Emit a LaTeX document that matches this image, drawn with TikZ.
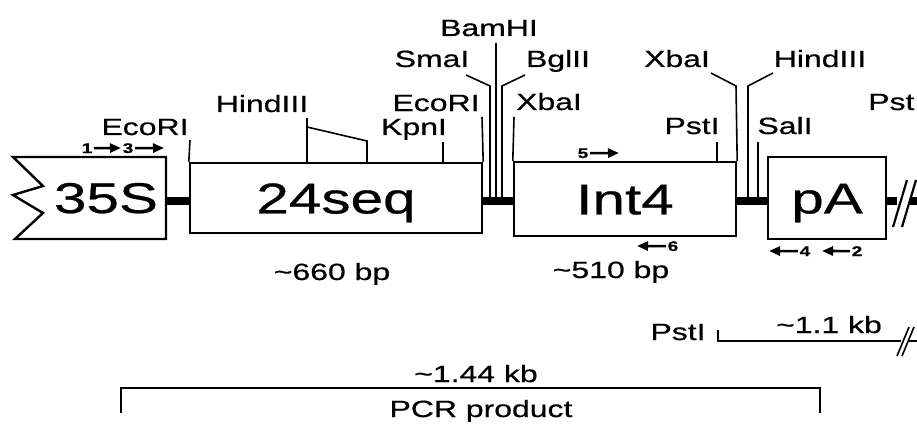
\documentclass[tikz,border=0pt]{standalone}
\usepackage{fontspec}
\setmainfont{Liberation Sans}[FakeStretch=1.36, FakeBold=0.6]
\usetikzlibrary{arrows.meta, positioning, calc}
\tikzset{
    % Boxes of the construct
    part box/.style={
        rectangle,
        draw=black,
        fill=white,
        line width=2.4pt,
        inner sep=0pt,
        text height=30.8pt,
        text depth=0pt,
        font=\fontsize{43}{43}\selectfont
    },
    part line/.style={
        draw=black,
        fill=white,
        line width=2.4pt,
        line join=miter
    },
    site label/.style={
        anchor=base,
        inner sep=0pt,
        font=\fontsize{23.5}{23.5}\selectfont
    },
    size label/.style={
        anchor=base,
        inner sep=0pt,
        font=\fontsize{23.5}{23.5}\selectfont
    },
    primer num/.style={
        anchor=base,
        inner sep=0pt,
        font=\fontsize{14}{14}\selectfont\bfseries
    },
    primer arrow/.style={
        -{Triangle[length=11pt,width=9pt]},
        line width=2.6pt,
        shorten <=1.5pt
    },
    site line/.style={
        line width=1.6pt,
        black
    },
    backbone/.style={
        line width=8pt,
        black
    },
    bracket/.style={
        line width=1.6pt,
        black
    },
    break mark/.style={
        line width=2.2pt,
        black
    }
}

\begin{document}
\begin{tikzpicture}[x=1pt, y=-1pt]
    \useasboundingbox (0,0) rectangle (917,425);

    % Backbone
    \coordinate (bbstart) at (166,201);
    \coordinate (bbbreak) at (897,201);
    \coordinate (bbresume) at (910,201);
    \coordinate (bbend) at (917,201);
    \draw[backbone] (bbstart) -- (bbbreak);
    \draw[backbone] (bbresume) -- (bbend);
    \draw[break mark] (893,227) -- (907,180);
    \draw[break mark] (902,227) -- (916,180);

    % 35S promoter
    \draw[part line] (166,157) -- (13,157) -- (43,186) -- (13,195) -- (43,213) -- (15,239) -- (166,239) -- cycle;
    \node[anchor=base, inner sep=0pt, font=\fontsize{43}{43}\selectfont] (prom) at (106,213) {35S};

    % 24seq, Int4 and pA
    \node[part box, minimum width=292pt, minimum height=70pt] (seq) at (336,198) {24seq};
    \node[part box, minimum width=222pt, minimum height=74pt] (int) at (625,199) {Int4};
    \node[part box, minimum width=118pt, minimum height=82pt] (pa) at (827,198) {pA};

    % Restriction sites
    \node[site label] (ecoA) at (145,135) {EcoRI};
    \node[site label] (hindA) at (262,112) {HindIII};
    \node[site label] (kpn) at (414,135) {KpnI};
    \node[site label] (ecoB) at (436,111) {EcoRI};
    \node[site label] (sma) at (432,67) {SmaI};
    \node[site label] (bam) at (489,36) {BamHI};
    \node[site label] (bgl) at (558,67) {BglII};
    \node[site label] (xbaA) at (549,110) {XbaI};
    \node[site label] (pstA) at (692,134) {PstI};
    \node[site label] (xbaB) at (677,67) {XbaI};
    \node[site label] (hindB) at (820,67) {HindIII};
    \node[site label] (sal) at (785,134) {SalI};
    \node[site label, anchor=base west] (pstB) at (868,110) {Pst};

    \coordinate (ecoAtop) at (190,140);
    \coordinate (hindAtop) at (307,118);
    \coordinate (hindAknee) at (307,127);
    \coordinate (hindAcut) at (367,141);
    \coordinate (kpntop) at (443,142);
    \coordinate (ecoBtop) at (482,117);
    \coordinate (smafoot) at (490,201);
    \coordinate (smaknee) at (490,86);
    \coordinate (smaend) at (466,75);
    \coordinate (bamfoot) at (496,201);
    \coordinate (bamtop) at (496,43);
    \coordinate (bglfoot) at (502,201);
    \coordinate (bglknee) at (502,86);
    \coordinate (bglend) at (525,75);
    \coordinate (xbaAtop) at (514,117);
    \coordinate (pstAtop) at (717,142);
    \coordinate (xbaBknee) at (736,86);
    \coordinate (xbaBend) at (711,73);
    \coordinate (hindBfoot) at (748,201);
    \coordinate (hindBknee) at (748,86);
    \coordinate (hindBend) at (773,73);
    \coordinate (salfoot) at (758,201);
    \coordinate (saltop) at (758,142);

    \draw[site line] (seq.north west) -- (ecoAtop);
    \draw[site line] (hindAtop) -- (hindAtop |- seq.north);
    \draw[site line] (hindAknee) -- (hindAcut) -- (hindAcut |- seq.north);
    \draw[site line] (kpntop) -- (kpntop |- seq.north);
    \draw[site line] (seq.north east) -- (ecoBtop);
    \draw[site line] (smafoot) -- (smaknee) -- (smaend);
    \draw[site line] (bamfoot) -- (bamtop);
    \draw[site line] (bglfoot) -- (bglknee) -- (bglend);
    \draw[site line] (int.north west) -- (xbaAtop);
    \draw[site line] (pstAtop) -- (pstAtop |- int.north);
    \draw[site line] (int.north east) -- (xbaBknee) -- (xbaBend);
    \draw[site line] (hindBfoot) -- (hindBknee) -- (hindBend);
    \draw[site line] (salfoot) -- (saltop);

    % Primers
    \node[primer num] (pr1) at (87,153) {1};
    \node[primer num] (pr3) at (128,153) {3};
    \node[primer num] (pr5) at (583,158) {5};
    \node[primer num] (pr6) at (673,251) {6};
    \node[primer num] (pr4) at (805,256) {4};
    \node[primer num] (pr2) at (857,256) {2};
    \coordinate (pr1tip) at (121,148);
    \coordinate (pr3tip) at (164,148);
    \coordinate (pr5tip) at (619,153);
    \coordinate (pr6tip) at (637,246);
    \coordinate (pr4tip) at (769,251);
    \coordinate (pr2tip) at (822,251);
    \draw[primer arrow] (pr1) -- (pr1tip);
    \draw[primer arrow] (pr3) -- (pr3tip);
    \draw[primer arrow] (pr5) -- (pr5tip);
    \draw[primer arrow] (pr6) -- (pr6tip);
    \draw[primer arrow] (pr4) -- (pr4tip);
    \draw[primer arrow] (pr2) -- (pr2tip);

    % Sizes
    \node[size label] (seqlen) at (332,280) {\textasciitilde660 bp};
    \node[size label] (intlen) at (611,278) {\textasciitilde510 bp};

    % PstI fragment
    \node[size label] (pstC) at (678,340) {PstI};
    \node[size label] (kbA) at (829,333) {\textasciitilde1.1 kb};
    \coordinate (pstCtop) at (718,330);
    \coordinate (pstCcorner) at (718,341);
    \coordinate (pstCbreak) at (901,341);
    \coordinate (pstCresume) at (909,341);
    \coordinate (pstCend) at (917,341);
    \draw[bracket] (pstCtop) -- (pstCcorner) -- (pstCbreak);
    \draw[bracket] (pstCresume) -- (pstCend);
    \draw[bracket] (897,356) -- (909,327);
    \draw[bracket] (902,356) -- (914,327);

    % PCR product
    \node[size label] (kbB) at (476,382) {\textasciitilde1.44 kb};
    \node[size label] (pcr) at (481,417) {PCR product};
    \coordinate (pcrL) at (121,413);
    \coordinate (pcrR) at (820,413);
    \draw[bracket] (pcrL) -- ++(0,-25) -| (pcrR);
\end{tikzpicture}
\end{document}
